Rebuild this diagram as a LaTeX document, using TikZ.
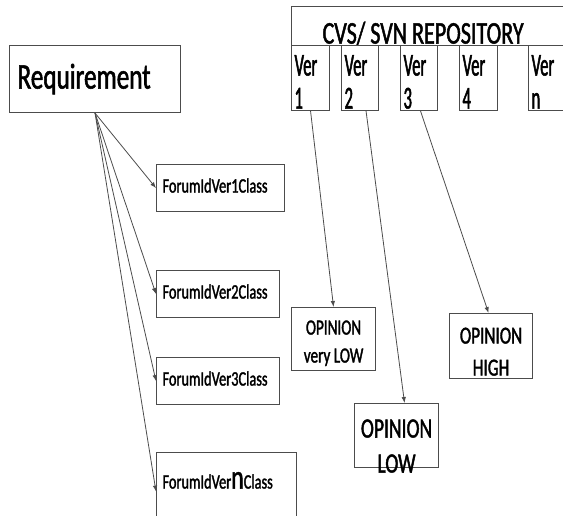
\documentclass[tikz,border=0pt]{standalone}
\usepackage{fontspec}
\setmainfont{Carlito}[FakeStretch=0.7, FakeBold=1.5]
\newfontfamily\narrowfont{Carlito}[FakeStretch=0.52, FakeBold=1.5]
\usetikzlibrary{arrows.meta}
\begin{document}
\begin{tikzpicture}[x=1pt,y=-1pt,
  every node/.append style={execute at begin node={\spaceskip=0.16em\relax}},
  box/.style={draw=black!70, line width=1.1pt, inner ysep=0pt, anchor=north west},
  verbox/.style={box, inner xsep=3pt, align=left, text height=30pt, text depth=35pt, font=\narrowfont\fontsize{32}{33}\selectfont},
  classbox/.style={box, inner xsep=6pt, align=left, text height=28pt, text depth=19pt, font=\fontsize{20.5}{20}\selectfont},
  opinionbox/.style={box, inner xsep=0pt, align=center},
  link/.style={draw=black!70, line width=0.8pt, -{Latex[length=6pt,width=4.5pt]}}]
\useasboundingbox (0,0) rectangle (563,515);
\node[box, inner xsep=8pt, text width=155pt, align=left, text height=43pt, text depth=24pt, font=\fontsize{36}{36}\selectfont] (req) at (9,45) {Requirement};
\node[box, inner xsep=31pt, text width=217pt, align=left, text height=37pt, text depth=2pt, font=\fontsize{31.5}{32}\selectfont] (repo) at (291,6) {CVS/ SVN REPOSITORY};

\node[verbox, text width=32pt] (ver1) at (291,45) {Ver\\1};
\node[verbox, text width=31pt] (ver2) at (341,45) {Ver\\2};
\node[verbox, text width=31pt] (ver3) at (400,45) {Ver\\3};
\node[verbox, text width=32pt] (ver4) at (459,45) {Ver\\4};
\node[verbox, text width=32pt] (vern) at (528,45) {Ver\\n};

\node[classbox, text width=116pt] (class1) at (156,164) {ForumIdVer1Class};
\node[classbox, text width=111pt] (class2) at (156,270) {ForumIdVer2Class};
\node[classbox, text width=111pt] (class3) at (156,357) {ForumIdVer3Class};
\node[classbox, text width=128pt, text height=36pt, text depth=42pt] (classn) at (156,452) {ForumIdVer{\fontsize{34}{34}\selectfont n}Class};

\node[opinionbox, text width=84pt, text height=27pt, text depth=36pt, font=\fontsize{21.7}{28}\selectfont] (opvlow) at (291,307) {OPINION\\very LOW};
\node[opinionbox, text width=84pt, text height=34pt, text depth=30pt, font=\fontsize{28}{35}\selectfont] (oplow) at (354,403) {OPINION\\LOW};
\node[opinionbox, text width=83pt, text height=30pt, text depth=35pt, font=\fontsize{24.5}{32}\selectfont] (ophigh) at (449,313) {OPINION\\HIGH};

\draw[link] (req.south) -- (class1.west);
\draw[link] (req.south) -- (class2.west);
\draw[link] (req.south) -- (class3.west);
\draw[link] (req.south) -- (classn.west);

\draw[link] (ver1.south) -- (opvlow.north);
\draw[link] ([xshift=6pt]ver2.south) -- ([xshift=8pt]oplow.north);
\draw[link] ([xshift=1.5pt]ver3.south) -- ([xshift=-2.5pt]ophigh.north);
\end{tikzpicture}
\end{document}
